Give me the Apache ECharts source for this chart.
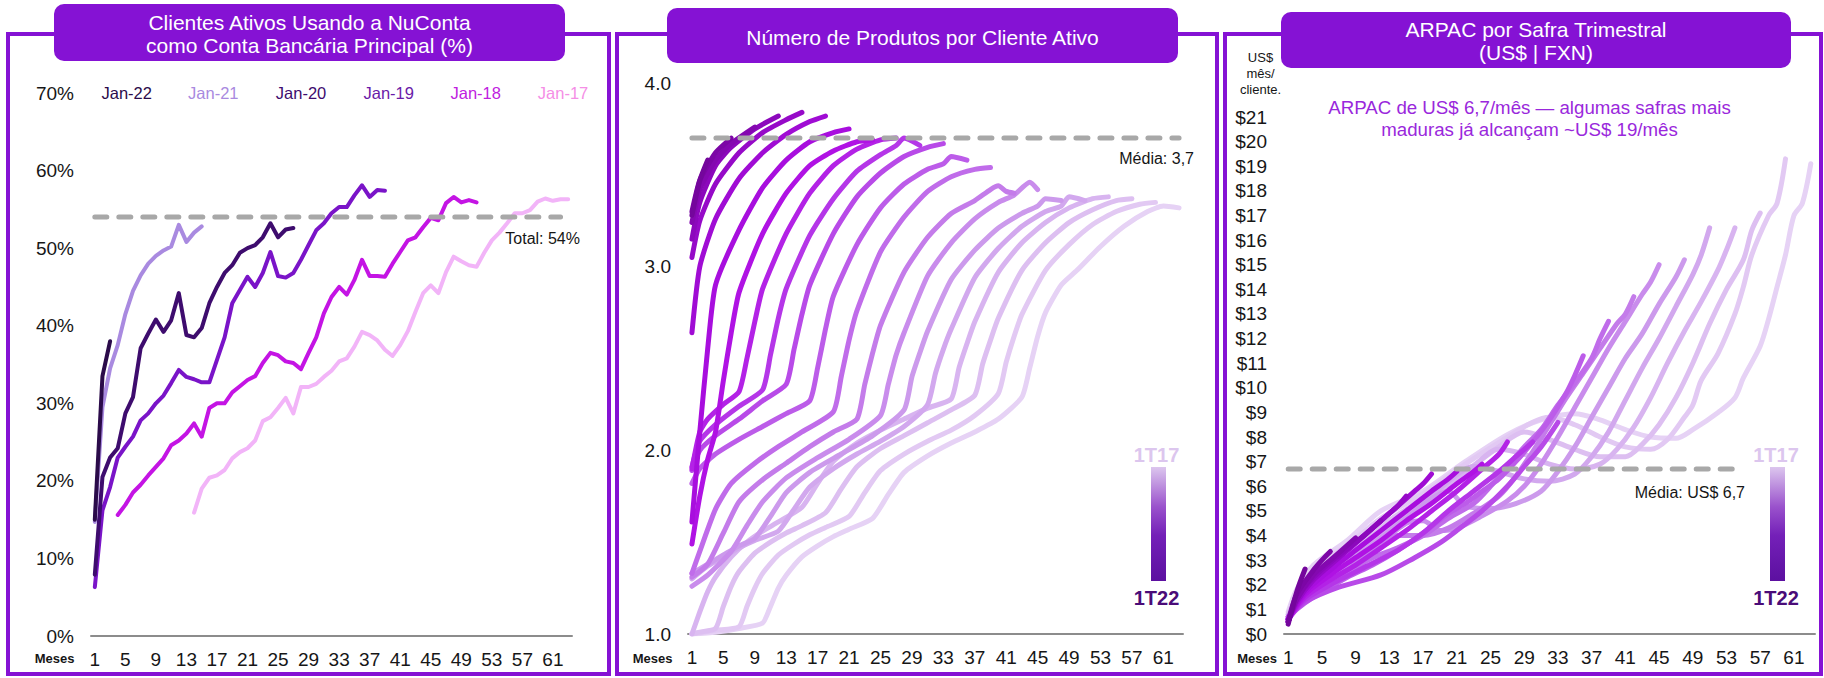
<!DOCTYPE html>
<html>
<head>
<meta charset="utf-8">
<script src="https://cdn.jsdelivr.net/npm/echarts@6/dist/echarts.min.js"></script>
<style>
html,body{margin:0;padding:0;background:#ffffff;}
#chart{width:1824px;height:678px;}
</style>
</head>
<body>
<div id="chart"></div>
<script>
// ---------- Panel 1: % of active clients using NuConta as main bank account ----------
const monthTicks = Array.from({length: 63}, (_, i) => String(i + 1));

const nucontaLabels = ['Jan-22', 'Jan-21', 'Jan-20', 'Jan-19', 'Jan-18', 'Jan-17'];
const jan22Start = 1;
const jan22 = [15.0, 33.5, 38.0];
const jan21Start = 1;
const jan21 = [14.7, 29.5, 34.5, 37.5, 41.5, 44.5, 46.5, 48.0, 49.0, 49.7, 50.2, 53.0, 50.8, 52.0, 52.8];
const jan20Start = 1;
const jan20 = [7.9, 20.5, 23.0, 24.2, 28.7, 30.8, 37.1, 39.0, 40.8, 39.2, 40.7, 44.2, 38.8, 38.5, 39.7,
  42.9, 45.0, 46.8, 47.8, 49.4, 50.0, 50.4, 51.4, 53.2, 51.4, 52.4, 52.6];
const jan19Start = 1;
const jan19 = [6.3, 16.2, 19.2, 23.0, 24.4, 25.7, 27.8, 28.7, 30.0, 31.0, 32.6, 34.3, 33.4, 33.1, 32.7,
  32.7, 35.6, 38.5, 42.9, 44.6, 46.3, 45.0, 46.8, 49.5, 46.4, 46.2, 46.8, 48.5, 50.4, 52.3,
  53.2, 54.5, 55.3, 55.3, 56.8, 58.1, 56.6, 57.5, 57.4];
const jan18Start = 4;
const jan18 = [15.6, 16.9, 18.5, 19.5, 20.7, 21.8, 22.9, 24.6, 25.2, 26.1, 27.4, 25.7, 29.4, 30.0, 30.0,
  31.4, 32.2, 33.0, 33.5, 35.2, 36.5, 36.2, 35.4, 35.2, 34.4, 36.5, 38.5, 41.6, 43.7, 45.0,
  44.0, 45.9, 48.5, 46.4, 46.4, 46.3, 48.0, 49.5, 51.0, 51.4, 52.7, 53.9, 53.6, 55.8, 56.6,
  55.9, 56.2, 55.9];
const jan17Start = 14;
const jan17 = [15.9, 19.0, 20.4, 20.7, 21.4, 22.9, 23.7, 24.2, 25.2, 27.7, 28.2, 29.4, 30.7, 28.7, 32.1,
  32.1, 32.5, 33.4, 34.2, 35.4, 35.8, 37.3, 39.2, 38.8, 38.1, 36.9, 36.1, 37.5, 39.3, 41.8,
  44.2, 45.2, 44.2, 46.9, 48.9, 48.3, 47.8, 47.6, 49.4, 51.0, 52.0, 53.2, 54.5, 54.5, 54.9,
  56.0, 56.4, 56.1, 56.3, 56.3];
const nucontaTotal = 54;

// ---------- Panel 2: products per active client, quarterly cohorts [month, value] ----------
const cohortLabels = ['1T17','2T17','3T17','4T17','1T18','2T18','3T18','4T18','1T19','2T19','3T19',
  '4T19','1T20','2T20','3T20','4T20','1T21','2T21','3T21','4T21','1T22'];
const prod1T17 = [[1,1.00],[4,1.01],[7,1.03],[10,1.06],[11,1.15],[12,1.25],[13,1.32],[15,1.42],[17,1.48],[19,1.53],[21,1.57],[24,1.63],[26,1.76],[28,1.88],[31,1.97],[34,2.04],[37,2.10],[40,2.17],[43,2.29],[44,2.45],[45,2.62],[46,2.75],[48,2.90],[50,2.98],[53,3.11],[56,3.22],[59,3.30],[61,3.33],[63,3.32]];
const prod2T17 = [[1,1.00],[4,1.02],[7,1.04],[8,1.15],[9,1.25],[10,1.33],[12,1.43],[14,1.49],[16,1.54],[18,1.58],[21,1.64],[23,1.77],[25,1.89],[28,1.98],[31,2.05],[34,2.11],[37,2.19],[40,2.31],[41,2.48],[42,2.62],[43,2.74],[46,2.98],[49,3.12],[52,3.23],[55,3.30],[58,3.34],[60,3.35]];
const prod3T17 = [[1,1.00],[2,1.01],[4,1.03],[5,1.15],[6,1.26],[7,1.34],[9,1.44],[11,1.50],[13,1.55],[15,1.59],[18,1.66],[20,1.79],[22,1.91],[25,2.01],[28,2.08],[31,2.15],[34,2.22],[37,2.30],[38,2.47],[39,2.60],[40,2.72],[43,2.98],[46,3.13],[49,3.24],[52,3.31],[55,3.36],[57,3.37]];
const prod4T17 = [[1,1.00],[2,1.12],[3,1.23],[4,1.31],[6,1.42],[8,1.50],[10,1.56],[12,1.61],[15,1.69],[17,1.82],[19,1.94],[22,2.04],[25,2.11],[28,2.17],[31,2.23],[34,2.28],[35,2.45],[36,2.58],[37,2.70],[40,2.97],[43,3.13],[46,3.24],[49,3.32],[52,3.37],[54,3.38]];
const prod1T18 = [[1,1.30],[3,1.37],[5,1.42],[7,1.47],[9,1.51],[12,1.56],[14,1.68],[16,1.80],[19,1.90],[22,1.98],[25,2.05],[28,2.13],[31,2.25],[32,2.42],[33,2.55],[34,2.66],[37,2.94],[40,3.10],[43,3.22],[46,3.30],[48,3.33],[49,3.38],[51,3.36]];
const prod2T18 = [[1,1.33],[3,1.38],[5,1.43],[7,1.48],[9,1.52],[11,1.64],[13,1.77],[16,1.88],[20,1.98],[24,2.08],[28,2.22],[29,2.40],[30,2.53],[31,2.65],[34,2.93],[37,3.09],[40,3.21],[43,3.29],[45,3.33],[46,3.37],[48,3.36]];
const prod3T18 = [[1,1.26],[3,1.32],[6,1.45],[8,1.59],[10,1.72],[13,1.85],[17,1.96],[21,2.06],[25,2.19],[26,2.36],[27,2.52],[28,2.64],[31,2.95],[34,3.13],[37,3.26],[40,3.35],[42,3.39],[44,3.46],[45,3.42]];
const prod4T18 = [[1,1.31],[3,1.38],[5,1.55],[7,1.72],[10,1.84],[13,1.93],[16,2.02],[19,2.10],[22,2.17],[23,2.36],[24,2.53],[25,2.68],[28,2.97],[31,3.16],[34,3.29],[37,3.36],[39,3.42],[40,3.44],[41,3.41],[42,3.40]];
const prod1T19 = [[1,1.33],[2,1.45],[4,1.68],[6,1.82],[9,1.93],[12,2.02],[15,2.10],[19,2.21],[20,2.40],[21,2.60],[22,2.76],[25,3.08],[28,3.27],[31,3.41],[34,3.49],[37,3.53],[39,3.54]];
const prod2T19 = [[1,1.82],[2,1.90],[4,1.98],[7,2.06],[10,2.13],[13,2.20],[16,2.27],[17,2.45],[18,2.66],[19,2.84],[22,3.12],[25,3.32],[28,3.45],[31,3.53],[33,3.56],[34,3.60],[36,3.58]];
const prod3T19 = [[1,1.89],[2,2.00],[4,2.08],[7,2.17],[10,2.27],[13,2.36],[14,2.55],[15,2.74],[16,2.90],[19,3.18],[22,3.38],[25,3.51],[28,3.60],[31,3.65],[33,3.67]];
const prod4T19 = [[1,1.91],[2,2.05],[4,2.14],[7,2.24],[10,2.33],[11,2.52],[12,2.72],[13,2.88],[16,3.17],[19,3.37],[22,3.52],[25,3.61],[27,3.66],[28,3.70],[30,3.66]];
const prod1T20 = [[1,1.90],[2,2.10],[3,2.17],[5,2.25],[7,2.32],[8,2.50],[9,2.70],[10,2.88],[13,3.18],[16,3.40],[19,3.55],[22,3.64],[25,3.69],[27,3.70]];
const prod2T20 = [[1,1.49],[2,1.75],[3,1.95],[4,2.10],[5,2.38],[6,2.64],[7,2.86],[10,3.18],[13,3.40],[16,3.55],[19,3.63],[22,3.68],[24,3.69]];
const prod3T20 = [[1,1.61],[2,2.10],[3,2.55],[4,2.90],[7,3.20],[10,3.43],[13,3.58],[16,3.68],[19,3.73],[21,3.75]];
const prod4T20 = [[1,2.64],[2,3.00],[4,3.26],[7,3.48],[10,3.62],[13,3.72],[16,3.79],[18,3.82]];
const prod1T21 = [[1,3.05],[2,3.25],[4,3.45],[7,3.62],[10,3.73],[13,3.80],[15,3.84]];
const prod2T21 = [[1,3.15],[2,3.35],[4,3.55],[6,3.65],[9,3.75],[12,3.82]];
const prod3T21 = [[1,3.24],[2,3.42],[4,3.58],[6,3.67],[9,3.76]];
const prod4T21 = [[1,3.30],[2,3.47],[4,3.62],[6,3.70]];
const prod1T22 = [[1,3.28],[2,3.47],[3,3.58]];
const produtosMedia = 3.7;

// ---------- Panel 3: ARPAC (US$/month per client), quarterly cohorts [month, value] ----------
const arpac1T17 = [[1,0.9],[2,1.8],[4,2.8],[8,3.8],[12,5.0],[17,5.8],[22,7.0],[27,8.1],[31,8.7],[35,8.95],[38,8.7],[41,8.3],[44,8.0],[47,7.95],[49,8.3],[52,9.0],[54,9.6],[55,10.4],[57,11.7],[58,12.8],[59,14.1],[60,15.4],[61,17.0],[62,17.5],[63,19.1]];
const arpac2T17 = [[1,0.8],[2,1.6],[4,2.6],[8,3.6],[12,4.7],[17,5.7],[22,6.9],[27,8.0],[30,8.6],[32,8.8],[35,8.5],[38,8.0],[41,7.6],[44,7.5],[46,7.9],[48,8.8],[49,9.3],[50,10.3],[52,11.4],[54,13.0],[55,14.1],[56,15.4],[58,17.0],[59,17.5],[60,19.3]];
const arpac3T17 = [[1,0.8],[2,1.5],[4,2.4],[8,3.4],[12,4.4],[17,5.5],[22,6.6],[26,7.6],[29,8.2],[32,7.9],[35,7.5],[38,7.2],[41,7.2],[43,7.7],[45,8.5],[47,9.6],[49,11.0],[51,12.6],[53,14.0],[55,15.2],[56,16.4],[57,17.1]];
const arpac4T17 = [[1,0.7],[2,1.4],[4,2.2],[8,3.2],[12,4.2],[17,5.3],[22,6.5],[26,7.5],[29,7.3],[32,6.9],[35,6.7],[38,6.9],[40,7.5],[42,8.4],[44,9.6],[46,11.0],[48,12.3],[50,13.5],[52,14.8],[53,15.6],[54,16.5]];
const arpac1T18 = [[1,0.7],[2,1.3],[4,2.0],[8,3.0],[12,4.0],[17,5.3],[20,6.2],[23,6.8],[26,6.6],[29,6.3],[32,6.2],[35,6.5],[37,7.2],[39,8.2],[41,9.5],[43,10.8],[45,12.0],[47,13.3],[49,14.6],[50,15.4],[51,16.5]];
const arpac2T18 = [[1,0.7],[2,1.2],[4,1.9],[8,2.9],[12,3.9],[15,4.7],[18,5.5],[20,5.8],[22,5.2],[25,5.1],[28,5.3],[31,5.8],[33,6.6],[35,7.6],[37,8.8],[39,10.0],[41,11.2],[43,12.2],[45,13.4],[47,14.5],[48,15.2]];
const arpac3T18 = [[1,0.6],[2,1.2],[4,1.8],[8,2.8],[12,3.7],[15,4.5],[17,4.6],[19,4.2],[21,4.3],[24,4.8],[27,5.4],[29,6.0],[31,6.9],[33,8.0],[35,9.2],[37,10.4],[39,11.6],[41,12.7],[43,13.8],[44,14.3],[45,15.0]];
const arpac4T18 = [[1,0.6],[2,1.1],[4,1.7],[8,2.6],[11,3.4],[14,4.0],[17,4.0],[20,4.3],[23,4.9],[26,5.6],[28,6.4],[30,7.4],[32,8.5],[34,9.6],[36,10.6],[38,11.6],[40,12.6],[41,13.0],[42,13.7]];
const arpac1T19 = [[1,0.6],[2,1.1],[4,1.6],[8,2.5],[11,3.1],[14,3.5],[17,4.0],[20,4.7],[23,5.3],[25,6.0],[27,6.8],[29,7.6],[31,8.3],[33,9.3],[35,10.2],[37,11.2],[38,12.0],[39,12.7]];
const arpac2T19 = [[1,0.6],[2,1.0],[4,1.5],[8,2.3],[11,2.8],[14,3.4],[17,4.1],[20,4.9],[22,5.3],[24,5.8],[26,6.3],[28,7.0],[30,7.8],[32,8.7],[34,9.8],[35,10.5],[36,11.3]];
const arpac3T19 = [[1,0.7],[3,1.3],[7,1.9],[12,2.4],[16,3.1],[19,3.7],[21,4.2],[24,5.0],[27,6.0],[29,6.8],[31,7.6],[33,8.6]];
const arpac4T19 = [[1,0.6],[3,1.4],[6,2.0],[10,2.7],[14,3.4],[17,4.1],[20,5.0],[23,5.8],[26,6.6],[28,7.2],[30,7.8]];
const arpac1T20 = [[1,0.6],[3,1.5],[6,2.2],[9,2.8],[12,3.5],[15,4.2],[18,5.0],[21,5.8],[24,6.7],[26,7.3],[27,7.8]];
const arpac2T20 = [[1,0.6],[3,1.6],[6,2.4],[9,3.1],[12,3.8],[15,4.6],[18,5.3],[21,6.1],[23,6.6],[24,6.9]];
const arpac3T20 = [[1,0.6],[3,1.7],[6,2.6],[9,3.4],[12,4.2],[15,5.0],[18,5.8],[20,6.3],[21,6.6]];
const arpac4T20 = [[1,0.5],[2,1.3],[4,2.2],[7,3.1],[10,4.0],[13,4.9],[16,5.8],[17,6.1],[18,6.5]];
const arpac1T21 = [[1,0.5],[2,1.3],[4,2.2],[7,3.1],[10,4.0],[13,4.9],[14,5.2],[15,5.6]];
const arpac2T21 = [[1,0.5],[2,1.4],[4,2.3],[7,3.2],[10,4.0],[11,4.3],[12,4.6]];
const arpac3T21 = [[1,0.5],[2,1.4],[4,2.4],[6,3.0],[8,3.6],[9,3.9]];
const arpac4T21 = [[1,0.5],[2,1.6],[4,2.6],[5,3.0],[6,3.35]];
const arpac1T22 = [[1,0.4],[2,1.7],[3,2.64]];
const arpacMedia = 6.7;

// ---------- styling ----------
const FONT = '"Liberation Sans", Arial, Helvetica, sans-serif';
const PURPLE = '#8512d4';
const INK = '#161616';
const DASH = '#a8a8a8';
const nucontaColors = ['#2b0b4a', '#a98ae0', '#3e0c6e', '#7a14c8', '#c414e4', '#f2b4f8'];
const nucontaTextColors = ['#2b0b4a', '#a98ae0', '#3e0c6e', '#6a1aa8', '#c020e0', '#f58ee6'];
const cohortColors = ['#e6d2f5','#e2c9f3','#ddbff1','#d8b4f0','#d2a8ee','#cc9aec','#c98cec','#c47cea',
  '#c06cea','#bc5ce9','#b84ae8','#b536e8','#b322e6','#b012e4','#a80ede','#a00cd4','#960ac8',
  '#8c08bc','#8408b0','#7c06a6','#74069c'];

const produtosSeries = [prod1T17, prod2T17, prod3T17, prod4T17, prod1T18, prod2T18, prod3T18, prod4T18,
  prod1T19, prod2T19, prod3T19, prod4T19, prod1T20, prod2T20, prod3T20, prod4T20, prod1T21, prod2T21,
  prod3T21, prod4T21, prod1T22];
const arpacSeries = [arpac1T17, arpac2T17, arpac3T17, arpac4T17, arpac1T18, arpac2T18, arpac3T18, arpac4T18,
  arpac1T19, arpac2T19, arpac3T19, arpac4T19, arpac1T20, arpac2T20, arpac3T20, arpac4T20, arpac1T21, arpac2T21,
  arpac3T21, arpac4T21, arpac1T22];

const nucontaValues = [jan22, jan21, jan20, jan19, jan18, jan17];
const nucontaStarts = [jan22Start, jan21Start, jan20Start, jan19Start, jan18Start, jan17Start];

const series = [];

// panel 1 lines (oldest drawn first)
for (let k = nucontaValues.length - 1; k >= 0; k--) {
  const start = nucontaStarts[k];
  series.push({
    name: nucontaLabels[k], type: 'line', xAxisIndex: 0, yAxisIndex: 0,
    data: nucontaValues[k].map((v, i) => [start + i - 1, v]),
    symbol: 'none', smooth: false, silent: true,
    lineStyle: { color: nucontaColors[k], width: 4, cap: 'round', join: 'round' }
  });
}
series.push({
  name: 'Total', type: 'line', xAxisIndex: 0, yAxisIndex: 0, symbol: 'none', silent: true,
  data: [[0, nucontaTotal], [61, nucontaTotal]], z: 5,
  lineStyle: { color: DASH, width: 5, type: [12, 12], cap: 'round' }
});

// panel 2 and 3 cohort lines
function cohortLines(list, axis, smooth) {
  list.forEach((pts, q) => {
    series.push({
      name: cohortLabels[q], type: 'line', xAxisIndex: axis, yAxisIndex: axis,
      data: pts.map(p => [p[0] - 1, p[1]]),
      symbol: 'none', smooth: smooth, silent: true,
      lineStyle: { color: cohortColors[q], width: 5, cap: 'round', join: 'round' }
    });
  });
}
cohortLines(produtosSeries, 1, 0.2);
series.push({
  name: 'Média produtos', type: 'line', xAxisIndex: 1, yAxisIndex: 1, symbol: 'none', silent: true,
  data: [[0, produtosMedia], [62, produtosMedia]], z: 5,
  lineStyle: { color: DASH, width: 5, type: [12, 12], cap: 'round' }
});
cohortLines(arpacSeries, 2, 0.3);
series.push({
  name: 'Média ARPAC', type: 'line', xAxisIndex: 2, yAxisIndex: 2, symbol: 'none', silent: true,
  data: [[0, arpacMedia], [54, arpacMedia]], z: 5,
  lineStyle: { color: DASH, width: 5, type: [12, 12], cap: 'round' }
});

function xAxisFor(i) {
  return {
    type: 'category', gridIndex: i, data: monthTicks, boundaryGap: true,
    axisLine: { show: true, lineStyle: { color: '#8c8c8c', width: 2 } },
    axisTick: { show: false }, splitLine: { show: false },
    axisLabel: { interval: 3, color: INK, fontSize: 19, margin: 14, fontFamily: FONT }
  };
}
function yAxisFor(i, min, max, fmt) {
  return {
    type: 'value', gridIndex: i, min: min, max: max, interval: 1 * (i === 0 ? 10 : 1),
    axisLine: { show: false }, axisTick: { show: false }, splitLine: { show: false },
    axisLabel: { color: INK, fontSize: 19, margin: 17, fontFamily: FONT, formatter: fmt }
  };
}

function txt(text, x, y, size, color, align, weight) {
  return {
    type: 'text', x: x, y: y, z: 10, silent: true,
    style: {
      text: text, fill: color, font: (weight || 'normal') + ' ' + size + 'px ' + FONT,
      textAlign: align || 'center', textVerticalAlign: 'middle', align: align || 'center', verticalAlign: 'middle'
    }
  };
}
function frame(x, w) {
  return { type: 'rect', z: 1, silent: true, shape: { x: x, y: 34, width: w, height: 640 },
    style: { fill: 'none', stroke: PURPLE, lineWidth: 4 } };
}
function titleBox(x, y, w, h) {
  return { type: 'rect', z: 2, silent: true, shape: { x: x, y: y, width: w, height: h, r: 10 },
    style: { fill: PURPLE } };
}
function gradientBar(x) {
  return { type: 'rect', z: 3, silent: true, shape: { x: x, y: 467, width: 15, height: 114 },
    style: { fill: new echarts.graphic.LinearGradient(0, 0, 0, 1, [
      { offset: 0, color: '#dcc6ee' }, { offset: 0.35, color: '#9a52cc' },
      { offset: 0.6, color: '#7420b8' }, { offset: 1, color: '#5c10a0' }]) } };
}

const graphic = [
  frame(8, 601), frame(617, 600), frame(1225, 596),
  titleBox(54, 4, 511, 57), titleBox(667, 8, 511, 55), titleBox(1281, 12, 510, 56),
  txt('Clientes Ativos Usando a NuConta', 309.5, 22, 21, '#ffffff'),
  txt('como Conta Bancária Principal (%)', 309.5, 45, 21, '#ffffff'),
  txt('Número de Produtos por Cliente Ativo', 922.5, 37, 21, '#ffffff'),
  txt('ARPAC por Safra Trimestral', 1536, 29, 21, '#ffffff'),
  txt('(US$ | FXN)', 1536, 52, 21, '#ffffff'),
  txt('Total: 54%', 580, 238, 16, INK, 'right'),
  txt('Média: 3,7', 1194, 158, 16, INK, 'right'),
  txt('Média: US$ 6,7', 1745, 492, 16, INK, 'right'),
  txt('Meses', 54.5, 658, 13, INK, 'center', 'bold'),
  txt('Meses', 652.5, 658, 13, INK, 'center', 'bold'),
  txt('Meses', 1257, 658, 13, INK, 'center', 'bold'),
  txt('US$', 1260.5, 57, 13, INK),
  txt('mês/', 1260.5, 73, 13, INK),
  txt('cliente.', 1260.5, 89, 13, INK),
  txt('ARPAC de US$ 6,7/mês — algumas safras mais', 1529.5, 107, 18.7, '#9a28dc'),
  txt('maduras já alcançam ~US$ 19/mês', 1529.5, 129, 18.7, '#9a28dc'),
  gradientBar(1151), gradientBar(1770),
  txt('1T17', 1156.5, 455, 20, '#dcc6ee', 'center', 'bold'),
  txt('1T22', 1156.5, 598, 20, '#4a0c78', 'center', 'bold'),
  txt('1T17', 1776, 455, 20, '#dcc6ee', 'center', 'bold'),
  txt('1T22', 1776, 598, 20, '#4a0c78', 'center', 'bold')
];
const legendX = [126.7, 213.3, 301, 388.7, 475.7, 563];
nucontaLabels.forEach((name, k) => graphic.push(txt(name, legendX[k], 92.5, 16.5, nucontaTextColors[k])));

const chart = echarts.init(document.getElementById('chart'), null, { renderer: 'svg', width: 1824, height: 678 });
chart.setOption({
  animation: false,
  backgroundColor: '#ffffff',
  textStyle: { fontFamily: FONT },
  grid: [
    { left: 91, top: 93, width: 481, height: 543, containLabel: false, outerBoundsMode: 'none' },
    { left: 688, top: 83, width: 495, height: 551, containLabel: false, outerBoundsMode: 'none' },
    { left: 1284, top: 117, width: 531, height: 517, containLabel: false, outerBoundsMode: 'none' }
  ],
  xAxis: [xAxisFor(0), xAxisFor(1), xAxisFor(2)],
  yAxis: [
    yAxisFor(0, 0, 70, '{value}%'),
    yAxisFor(1, 1, 4, v => v.toFixed(1)),
    yAxisFor(2, 0, 21, v => '$' + v)
  ],
  series: series,
  graphic: { elements: graphic }
});
</script>
</body>
</html>
